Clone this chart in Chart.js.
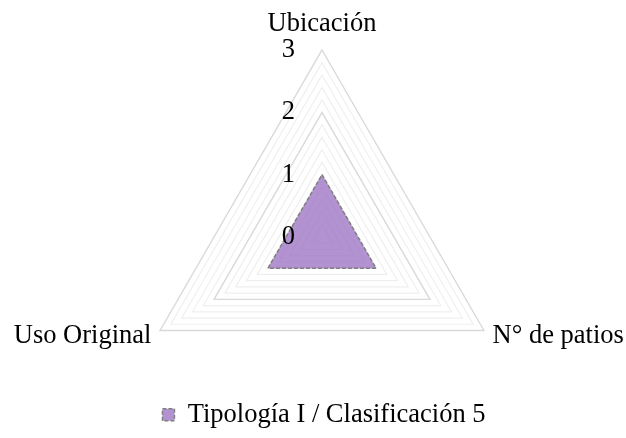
<!DOCTYPE html>
<html>
<head>
<meta charset="utf-8">
<script src="https://cdn.jsdelivr.net/npm/chart.js@4/dist/chart.umd.min.js"></script>
<style>
  html, body { margin: 0; padding: 0; background: #fff; }
  #wrap { width: 626px; height: 438px; position: relative; }
</style>
</head>
<body>
<div id="wrap"><canvas id="radarChart"></canvas></div>
<script>
const categories = ['Ubicación', 'N° de patios', 'Uso Original'];
const seriesName = 'Tipología I / Clasificación 5';
const seriesValues = [1, 1, 1];
const tickLabels = [0, 1, 2, 3];
const scaleMin = 0;
const scaleMax = 3;
const minorStep = 0.2;

// plot geometry (centre and outer radius of the radar, in canvas px)
const plotCenterX = 322;
const plotCenterY = 237;
const plotRadius = 187;

const fontFamily = "'Times New Roman', 'Liberation Serif', serif";
const fontSize = 26.5;

const isMajor = v => Math.abs(v - Math.round(v)) < 1e-6;

// Excel puts the value labels to the left of the vertical axis
const tickLabelPlugin = {
    id: 'tickLabels',
    afterDatasetsDraw(chart) {
        const r = chart.scales.r;
        const ctx = chart.ctx;
        ctx.save();
        ctx.font = `${fontSize}px ${fontFamily}`;
        ctx.fillStyle = '#000';
        ctx.textAlign = 'right';
        ctx.textBaseline = 'middle';
        tickLabels.forEach(v => {
            const p = r.getPointPositionForValue(0, v);
            ctx.fillText(String(v), p.x - 27, p.y);
        });
        ctx.restore();
    }
};

new Chart(document.getElementById('radarChart'), {
    type: 'radar',
    data: {
        labels: categories,
        datasets: [{
            label: seriesName,
            data: seriesValues,
            fill: true,
            backgroundColor: 'rgba(156, 115, 196, 0.78)',
            borderColor: '#808080',
            borderWidth: 1.5,
            borderDash: [4, 2],
            pointRadius: 0,
            pointHoverRadius: 0
        }]
    },
    options: {
        responsive: true,
        maintainAspectRatio: false,
        animation: false,
        // left padding only nudges the legend to the right
        layout: { padding: { left: 22 } },
        plugins: {
            tooltip: { enabled: false },
            legend: {
                position: 'bottom',
                labels: {
                    color: '#000',
                    boxWidth: 12,
                    boxHeight: 12,
                    padding: 2,
                    font: { family: fontFamily, size: fontSize }
                }
            }
        },
        scales: {
            r: {
                min: scaleMin,
                max: scaleMax,
                afterSetDimensions(scale) {
                    scale.left = 0;
                    scale.right = scale.chart.width;
                    scale.xCenter = plotCenterX;
                    scale.yCenter = plotCenterY;
                    scale.drawingArea = plotRadius;
                },
                ticks: { display: false, stepSize: minorStep },
                angleLines: { display: false },
                grid: {
                    color: ctx => isMajor(ctx.tick.value) ? '#d9d9d9' : '#efefef',
                    lineWidth: ctx => isMajor(ctx.tick.value) ? 1.4 : 1.2
                },
                pointLabels: {
                    color: '#000',
                    padding: 10,
                    font: ctx => ({
                        family: fontFamily,
                        size: fontSize,
                        lineHeight: ctx.index === 0 ? 1.2 : 0.05
                    })
                }
            }
        }
    },
    plugins: [tickLabelPlugin]
});
</script>
</body>
</html>
